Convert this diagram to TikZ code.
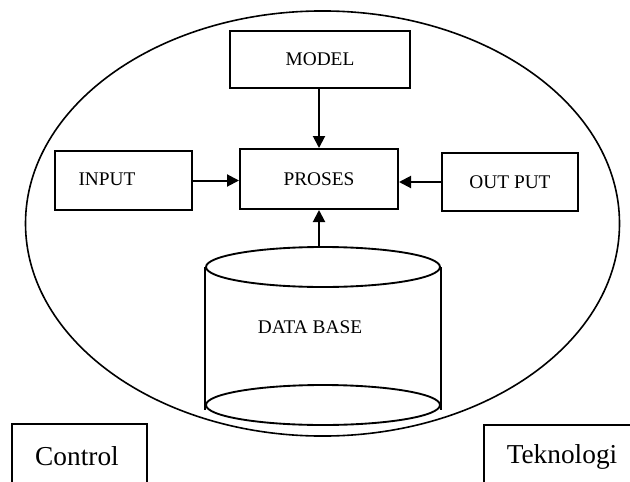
\documentclass[tikz,border=0pt]{standalone}
\usepackage{fontspec}
\setmainfont{Liberation Serif}
\usetikzlibrary{arrows.meta,shapes.geometric}
\tikzset{
  boxnode/.style={draw,line width=1.5pt,rectangle,inner sep=0pt},
  lbl/.style={font=\fontsize{14.5}{17}\selectfont,inner sep=0pt},
  biglbl/.style={font=\fontsize{20.5}{24}\selectfont,inner sep=0pt,anchor=base},
  arr/.style={line width=1.5pt,-{Triangle[length=9pt,width=9pt]}},
  cyl/.style={line width=1.4pt},
}
\begin{document}
\begin{tikzpicture}[x=0.75pt,y=-0.75pt]
\useasboundingbox (0,0) rectangle (630,481);
% outer ellipse
\draw[line width=1.2pt] (322.5,223.5) ellipse [x radius=222.75pt, y radius=159.4pt];
% boxes
\node[boxnode,minimum width=135pt,minimum height=42.75pt,lbl] (model) at (320,59.5) {MODEL};
\node[boxnode,minimum width=118.5pt,minimum height=45pt,lbl] (proses) at (319,179) {PROSES};
\node[boxnode,minimum width=102.75pt,minimum height=44.25pt] (input) at (123.5,180.5) {};
\node[lbl] (inputtext) at (107,179) {INPUT};
\node[boxnode,minimum width=102pt,minimum height=43.5pt,lbl] (output) at (510,182) {OUT PUT};
% cylinder
\node[ellipse,draw,cyl,minimum width=175.5pt,minimum height=30pt,inner sep=0pt] (dbtop) at (323,267) {};
\node[ellipse,draw,cyl,minimum width=175.5pt,minimum height=30pt,inner sep=0pt] (dbbot) at (323,405) {};
\draw[cyl] (dbtop.west) -- ([yshift=-3.75pt]dbbot.west);
\draw[cyl] (dbtop.east) -- ([yshift=-3.75pt]dbbot.east);
\node[lbl] (dbtext) at (310,327) {DATA BASE};
% arrows
\draw[arr] (model.south -| proses.north) -- (proses.north);
\draw[arr] (input.east) -- (input.east -| proses.west);
\draw[arr] (output.west) -- (output.west -| proses.east);
\draw[arr] (proses.south |- dbtop.north) -- (proses.south);
% bottom boxes
\coordinate (cbl) at (12,486);
\coordinate (cbr) at (147,486);
\draw[line width=1.5pt] (cbl) |- (79.5,424) -| (cbr);
\node[biglbl] (control) at (77,465) {Control};
\coordinate (tbl) at (484,486);
\coordinate (tbr) at (640,425);
\draw[line width=1.5pt] (tbl) |- (tbr);
\node[biglbl] (tekno) at (562,463) {Teknologi};
\end{tikzpicture}
\end{document}
